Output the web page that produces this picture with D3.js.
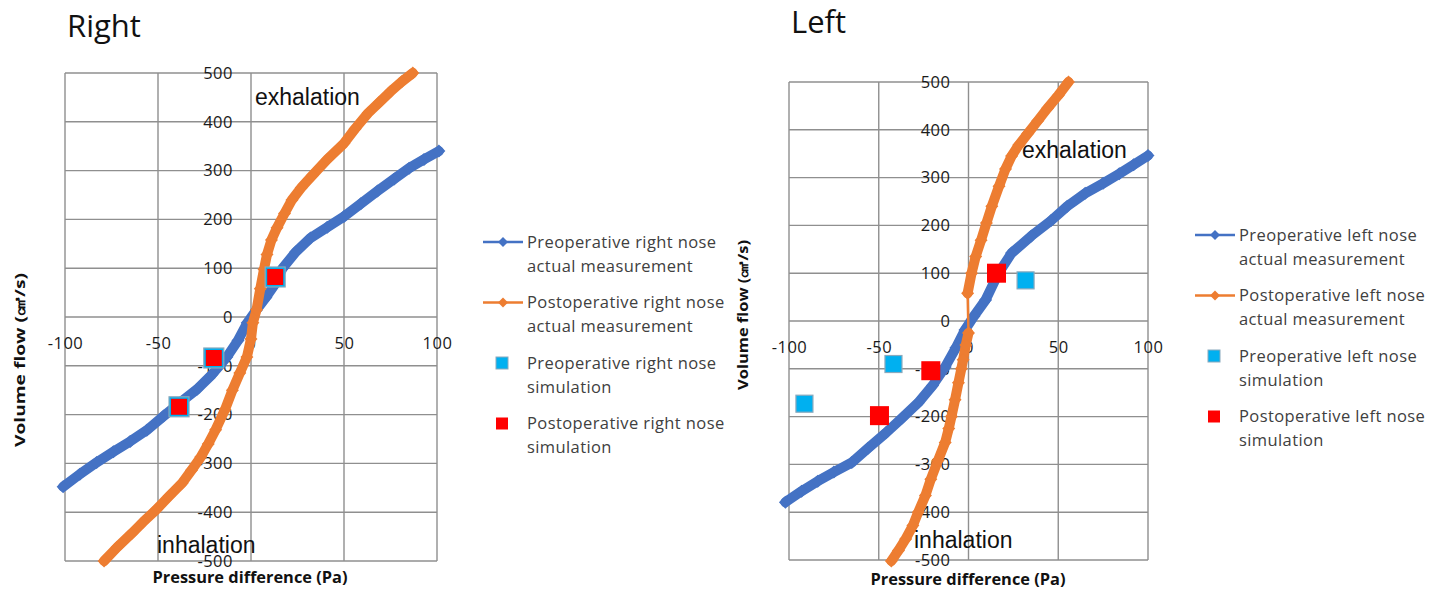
<!DOCTYPE html>
<html>
<head>
<meta charset="utf-8">
<script src="https://cdn.jsdelivr.net/npm/d3@7"></script>
<style>
  body { margin: 0; background: #fff; }
  svg { display: block; }
</style>
</head>
<body>
<svg id="chart" width="1446" height="590"></svg>
<script>
// axis ticks shared by both panels
const xTicks = [-100, -50, 0, 50, 100];
const yTicks = [-500, -400, -300, -200, -100, 0, 100, 200, 300, 400, 500];

// Right nose: [pressure difference (Pa), volume flow (cm3/s)]
const rightPreMeasured = [
  [-101, -348], [-92, -322], [-83, -298], [-74, -276], [-65, -255], [-56, -232],
  [-47, -203], [-38, -175], [-29, -148], [-21, -118], [-13, -82], [-7, -48],
  [-2, -12], [3, 15], [8, 40], [13, 68], [17, 100], [24, 133], [32, 162],
  [41, 184], [50, 206], [59, 232], [68, 258], [77, 283], [85, 305], [93, 323], [101, 340]
];
const rightPostMeasured = [
  [-79, -500], [-72, -472], [-64, -443], [-58, -420], [-51, -395], [-44, -367],
  [-37, -340], [-32, -314], [-27, -287], [-23, -260], [-19, -231], [-14, -190],
  [-10, -150], [-6, -115], [-2.2, -82], [0, -45], [1, -12], [3, 15], [5, 58],
  [7, 98], [8.6, 128], [11, 158], [14, 183], [18, 212], [22, 240], [27, 265],
  [33, 290], [41, 323], [50, 356], [56, 386], [63, 418], [69, 440], [75, 462],
  [81, 482], [87, 500]
];
const rightPreSim = [[13, 82], [-20, -84], [-38.7, -184]];
const rightPostSim = [[13, 82], [-20, -84], [-38.7, -184]];

// Left nose
const leftPreMeasured = [
  [-102, -379], [-93, -356], [-84, -335], [-75, -316], [-65, -296], [-56, -266],
  [-46, -234], [-37, -203], [-28, -171], [-20, -135], [-13, -96], [-7, -56],
  [-2, -19], [3, 10], [9.5, 44], [16.7, 100], [24, 142], [35, 178], [46, 210],
  [55, 240], [65, 267], [75, 288], [84, 308], [92, 327], [100, 346]
];
const leftPostMeasured = [
  [-43, -502], [-39, -480], [-35, -456], [-31, -428], [-28, -400], [-24, -365],
  [-21, -331], [-17, -292], [-13, -254], [-11, -225], [-9.5, -200], [-7.5, -165],
  [-5.6, -129], [-4, -100], [-3, -81], [-1.5, -50], [0, -25], [-0.5, 58],
  [1.7, 100], [4, 135], [7, 169], [10, 205], [13, 240], [17, 282], [20.6, 318],
  [24, 345], [28, 368], [33, 392], [38.6, 419], [44, 445], [50, 472], [55.7, 500]
];
const leftPreSim = [[31.8, 85], [-41.8, -90], [-91.4, -173]];
const leftPostSim = [[15.6, 100], [-21, -104], [-49.6, -198]];

const rightLegend = [
  ["Preoperative right nose", "actual measurement"],
  ["Postoperative right nose", "actual measurement"],
  ["Preoperative right nose", "simulation"],
  ["Postoperative right nose", "simulation"]
];
const leftLegend = [
  ["Preoperative left nose", "actual measurement"],
  ["Postoperative left nose", "actual measurement"],
  ["Preoperative left nose", "simulation"],
  ["Postoperative left nose", "simulation"]
];

const colors = { pre: "#4472C4", post: "#ED7D31", preSim: "#00B0F0", postSim: "#FF0000" };
const gridColor = "#8f8f8f";
const tickFont = "'Open Sans', sans-serif";

const svg = d3.select("#chart");
svg.append("rect").attr("width", 1446).attr("height", 590).attr("fill", "#fff");

function diamond(r) {
  return `M0,${-r}L${r},0L0,${r}L${-r},0Z`;
}

function drawPanel(opt) {
  const g = svg.append("g");
  const x = d3.scaleLinear().domain([-100, 100]).range([opt.left, opt.right]);
  const y = d3.scaleLinear().domain([-500, 500]).range([opt.bottom, opt.top]);

  // grid (plot border comes from the outer ticks)
  g.append("g").selectAll("line").data(xTicks).join("line")
      .attr("x1", d => x(d)).attr("x2", d => x(d))
      .attr("y1", opt.top).attr("y2", opt.bottom)
      .attr("stroke", gridColor).attr("stroke-width", 1.4);
  g.append("g").selectAll("line").data(yTicks).join("line")
      .attr("x1", opt.left).attr("x2", opt.right)
      .attr("y1", d => y(d)).attr("y2", d => y(d))
      .attr("stroke", gridColor).attr("stroke-width", 1.4);

  // tick labels sit next to the axes crossing at 0
  const xAxis = g.append("g")
      .attr("transform", `translate(0,${y(0)})`)
      .call(d3.axisBottom(x).tickValues(xTicks).tickSize(0).tickPadding(20).tickFormat(d => String(d)));
  const yAxis = g.append("g")
      .attr("transform", `translate(${x(0)},0)`)
      .call(d3.axisLeft(y).tickValues(yTicks).tickSize(0).tickPadding(18).tickFormat(d => String(d)));
  [xAxis, yAxis].forEach(a => {
    a.select(".domain").remove();
    a.attr("font-family", null).attr("font-size", null);
    a.selectAll("text")
        .attr("font-family", tickFont)
        .attr("font-size", 16.5)
        .attr("letter-spacing", 0.5)
        .attr("fill", "#1a1a1a");
  });

  // measured series: thin connecting line, dense diamond band, diamonds
  const line = d3.line().x(d => x(d[0])).y(d => y(d[1]));
  function measured(data, color) {
    const s = g.append("g");
    s.append("path").attr("d", line(data))
        .attr("fill", "none").attr("stroke", color).attr("stroke-width", 2.5);
    // split into runs where markers overlap
    const runs = [[data[0]]];
    for (let i = 1; i < data.length; i++) {
      const a = data[i - 1], b = data[i];
      const dist = Math.hypot(x(b[0]) - x(a[0]), y(b[1]) - y(a[1]));
      if (dist > 32) runs.push([b]);
      else runs[runs.length - 1].push(b);
    }
    runs.filter(r => r.length > 1).forEach(r => {
      s.append("path").attr("d", line(r))
          .attr("fill", "none").attr("stroke", color)
          .attr("stroke-width", 10).attr("stroke-linejoin", "round").attr("stroke-linecap", "round");
    });
    s.selectAll("path.mk").data(data).join("path").attr("class", "mk")
        .attr("transform", d => `translate(${x(d[0])},${y(d[1])})`)
        .attr("d", diamond(6.5)).attr("fill", color);
  }
  measured(opt.pre, colors.pre);
  measured(opt.post, colors.post);

  // simulation squares
  g.append("g").selectAll("rect").data(opt.preSim).join("rect")
      .attr("x", d => x(d[0]) - opt.preSize / 2).attr("y", d => y(d[1]) - opt.preSize / 2)
      .attr("width", opt.preSize).attr("height", opt.preSize)
      .attr("fill", colors.preSim).attr("stroke", "#8aa9bd").attr("stroke-width", 1.2);
  g.append("g").selectAll("rect").data(opt.postSim).join("rect")
      .attr("x", d => x(d[0]) - opt.postSize / 2).attr("y", d => y(d[1]) - opt.postSize / 2)
      .attr("width", opt.postSize).attr("height", opt.postSize)
      .attr("fill", colors.postSim);

  // exhalation / inhalation notes
  const note = (t, p) => g.append("text").attr("x", p[0]).attr("y", p[1]).text(t)
      .attr("font-family", "'Liberation Sans', Arial, sans-serif").attr("font-size", 23).attr("fill", "#111");
  note("exhalation", opt.exhal);
  note("inhalation", opt.inhal);

  // panel title
  svg.append("text").attr("x", opt.titlePos[0]).attr("y", opt.titlePos[1]).text(opt.title)
      .attr("font-family", tickFont).attr("font-size", 31).attr("fill", "#111");

  // axis titles
  svg.append("text").attr("x", opt.xTitlePos[0]).attr("y", opt.xTitlePos[1])
      .attr("text-anchor", "middle").attr("font-family", tickFont).attr("font-weight", 700)
      .attr("font-size", 16).attr("fill", "#111")
      .attr("textLength", 195).attr("lengthAdjust", "spacingAndGlyphs")
      .text("Pressure difference (Pa)");
  svg.append("text")
      .attr("transform", `translate(${opt.yTitlePos[0]},${opt.yTitlePos[1]}) rotate(-90)`)
      .attr("text-anchor", "middle").attr("dy", "0.35em")
      .attr("font-family", tickFont).attr("font-weight", 700)
      .attr("font-size", opt.yTitleSize).attr("fill", "#111")
      .attr("textLength", opt.yTitleLen).attr("lengthAdjust", "spacingAndGlyphs")
      .text("Volume flow (㎤/s)");

  // legend
  const lg = svg.append("g").attr("transform", `translate(${opt.legend[0]},${opt.legend[1]})`);
  opt.legendText.forEach((lines, i) => {
    const row = lg.append("g").attr("transform", `translate(0,${i * opt.legendStep})`);
    if (i < 2) {
      const c = i === 0 ? colors.pre : colors.post;
      row.append("line").attr("x1", 0).attr("x2", 40).attr("y1", 0).attr("y2", 0)
          .attr("stroke", c).attr("stroke-width", 2.5);
      row.append("path").attr("transform", "translate(20,0)").attr("d", diamond(5)).attr("fill", c);
    } else {
      row.append("rect").attr("x", 13).attr("y", -6).attr("width", 12).attr("height", 12)
          .attr("fill", i === 2 ? colors.preSim : colors.postSim)
          .attr("stroke", i === 2 ? "#8aa9bd" : "none");
    }
    lines.forEach((t, j) => {
      row.append("text").attr("x", 44).attr("y", j * 24).attr("dy", "0.35em")
          .attr("font-family", tickFont).attr("font-size", 16.5).attr("letter-spacing", 0.4)
          .attr("fill", "#404040").text(t);
    });
  });
}

drawPanel({
  title: "Right", titlePos: [67, 37],
  left: 65, right: 437, top: 73, bottom: 561,
  pre: rightPreMeasured, post: rightPostMeasured,
  preSim: rightPreSim, postSim: rightPostSim, preSize: 20, postSize: 16,
  exhal: [255, 105], inhal: [157, 553],
  xTitlePos: [250, 583], yTitlePos: [20, 360], yTitleSize: 15, yTitleLen: 174,
  legend: [483, 242], legendStep: 60.5, legendText: rightLegend
});

drawPanel({
  title: "Left", titlePos: [791, 33],
  left: 789, right: 1148, top: 82, bottom: 560,
  pre: leftPreMeasured, post: leftPostMeasured,
  preSim: leftPreSim, postSim: leftPostSim, preSize: 17, postSize: 19,
  exhal: [1022, 158], inhal: [914, 548],
  xTitlePos: [968, 585], yTitlePos: [743, 315], yTitleSize: 13.5, yTitleLen: 150,
  legend: [1195, 235], legendStep: 60.5, legendText: leftLegend
});
</script>
</body>
</html>
